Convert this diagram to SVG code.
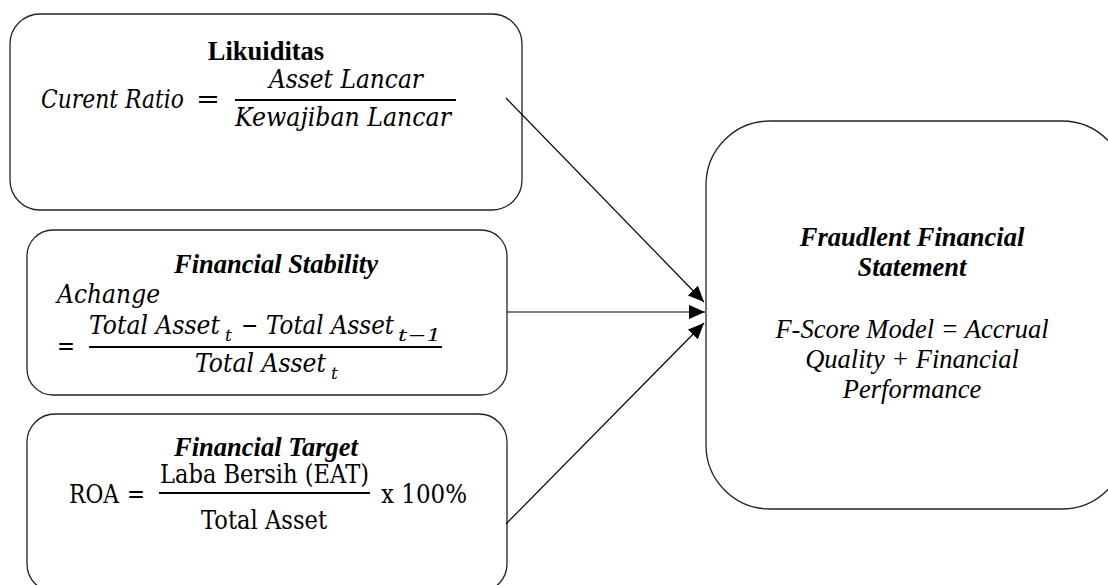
<svg xmlns="http://www.w3.org/2000/svg" width="1108" height="585" viewBox="0 0 1108 585">
<defs>
<style>
.box{fill:#fff;stroke:#222;stroke-width:1.3}
.conn{stroke:#000;stroke-width:1.2;fill:none}
.t{font-family:"Liberation Serif","Times New Roman",serif;font-size:26.5px;fill:#000}
.b{font-weight:bold}
.i{font-style:italic}
.m{font-family:"DejaVu Serif","Liberation Serif",serif;font-size:25.5px;fill:#000;font-style:italic}
.mu{font-family:"DejaVu Serif","Liberation Serif",serif;font-size:25.5px;fill:#000}
.sub{font-family:"DejaVu Serif","Liberation Serif",serif;font-size:17px;fill:#000;font-style:italic}
.frac{stroke:#000;stroke-width:2}
</style>
<marker id="arr" markerUnits="userSpaceOnUse" markerWidth="17" markerHeight="14" refX="16" refY="7" orient="auto">
<path d="M0,0 L16,7 L0,14 z" fill="#000"/>
</marker>
</defs>
<rect width="1108" height="585" fill="#fff"/>

<g id="node-likuiditas">
<rect class="box" x="10" y="14" width="512" height="196" rx="30" ry="30"/>
<text class="t b" x="266" y="60" text-anchor="middle">Likuiditas</text>
<text class="m" x="41" y="108" textLength="143" lengthAdjust="spacingAndGlyphs">Curent Ratio</text>
<text class="mu" x="196" y="108" textLength="24" lengthAdjust="spacingAndGlyphs">=</text>
<text class="m" x="269" y="88" textLength="154" lengthAdjust="spacingAndGlyphs">Asset Lancar</text>
<line class="frac" x1="235" y1="100" x2="456" y2="100"/>
<text class="m" x="235" y="126" textLength="216" lengthAdjust="spacingAndGlyphs">Kewajiban Lancar</text>
</g>

<g id="node-stability">
<rect class="box" x="27" y="230" width="480" height="165" rx="26" ry="26"/>
<text class="t b i" x="174" y="273">Financial Stability</text>
<text class="m" x="57" y="303" textLength="103" lengthAdjust="spacingAndGlyphs">Achange</text>
<text class="mu" x="57" y="355" textLength="18" lengthAdjust="spacingAndGlyphs">=</text>
<text class="m" x="89" y="334" textLength="131" lengthAdjust="spacingAndGlyphs">Total Asset</text>
<text class="sub" x="225" y="341">t</text>
<text class="mu" x="241" y="334" textLength="17" lengthAdjust="spacingAndGlyphs">−</text>
<text class="m" x="266" y="334" textLength="128" lengthAdjust="spacingAndGlyphs">Total Asset</text>
<text class="sub" x="398" y="341" textLength="43" lengthAdjust="spacingAndGlyphs">t−1</text>
<line class="frac" x1="89" y1="347" x2="442" y2="347"/>
<text class="m" x="195" y="372" textLength="131" lengthAdjust="spacingAndGlyphs">Total Asset</text>
<text class="sub" x="331" y="379">t</text>
</g>

<g id="node-target">
<rect class="box" x="27" y="414" width="480" height="178" rx="28" ry="28"/>
<text class="t b i" x="174" y="456">Financial Target</text>
<text class="mu" x="69" y="503" textLength="50" lengthAdjust="spacingAndGlyphs">ROA</text>
<text class="mu" x="127" y="503" textLength="18" lengthAdjust="spacingAndGlyphs">=</text>
<text class="mu" x="160" y="483" textLength="209" lengthAdjust="spacingAndGlyphs">Laba Bersih (EAT)</text>
<line class="frac" x1="159" y1="493" x2="370" y2="493"/>
<text class="mu" x="201" y="529" textLength="126" lengthAdjust="spacingAndGlyphs">Total Asset</text>
<text class="mu" x="381" y="503" textLength="86" lengthAdjust="spacingAndGlyphs">x 100%</text>
</g>

<g id="node-fraud">
<rect class="box" x="706" y="121" width="420" height="388" rx="64" ry="64"/>
<text class="t b i" x="912" y="246" text-anchor="middle">Fraudlent Financial</text>
<text class="t b i" x="912" y="276" text-anchor="middle">Statement</text>
<text class="t i" x="912" y="338" text-anchor="middle">F-Score Model = Accrual</text>
<text class="t i" x="912" y="368" text-anchor="middle">Quality + Financial</text>
<text class="t i" x="912" y="398" text-anchor="middle">Performance</text>
</g>

<g id="connectors">
<line class="conn" x1="506" y1="98" x2="704" y2="302" marker-end="url(#arr)"/>
<line class="conn" x1="507" y1="312" x2="705" y2="312" marker-end="url(#arr)"/>
<line class="conn" x1="506" y1="524" x2="704" y2="323" marker-end="url(#arr)"/>
</g>
</svg>
